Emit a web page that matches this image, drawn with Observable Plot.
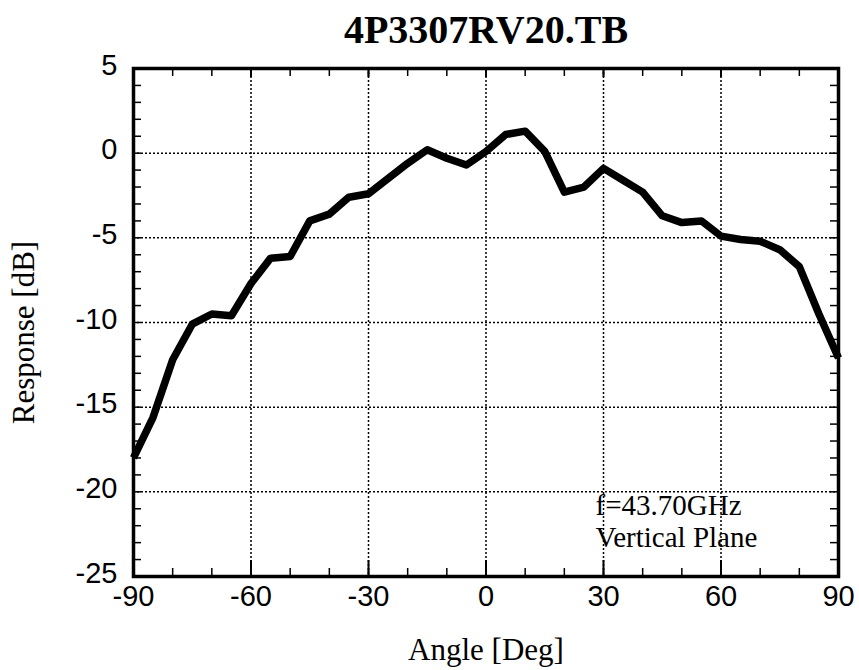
<!DOCTYPE html>
<html>
<head>
<meta charset="utf-8">
<script src="https://cdn.jsdelivr.net/npm/d3@7"></script>
<script src="https://cdn.jsdelivr.net/npm/@observablehq/plot@0.6"></script>
<style>
  html, body { margin: 0; padding: 0; background: #fff; }
  #chart svg { display: block; }
</style>
</head>
<body>
<div id="chart"></div>
<script>
// ---- Data ----
const chartTitle = "4P3307RV20.TB";
const xLabel = "Angle [Deg]";
const yLabel = "Response [dB]";
const annotationLines = ["f=43.70GHz", "Vertical Plane"];

const angles = [-90, -85, -80, -75, -70, -65, -60, -55, -50, -45, -40, -35, -30, -25, -20, -15, -10, -5,
                0, 5, 10, 15, 20, 25, 30, 35, 40, 45, 50, 55, 60, 65, 70, 75, 80, 85, 90];
const response = [-18.0, -15.6, -12.2, -10.1, -9.5, -9.6, -7.7, -6.2, -6.1, -4.0, -3.6, -2.6, -2.4, -1.5, -0.6, 0.2, -0.3, -0.7,
                  0.1, 1.1, 1.3, 0.1, -2.3, -2.0, -0.9, -1.6, -2.3, -3.7, -4.1, -4.0, -4.9, -5.1, -5.2, -5.7, -6.7, -9.5, -12.1];

const xTicks = [-90, -60, -30, 0, 30, 60, 90];
const yTicks = [5, 0, -5, -10, -15, -20, -25];
const xGrid = [-60, -30, 0, 30, 60];
const yGrid = [0, -5, -10, -15, -20];
const xMinor = d3.range(-80, 90, 10);
const yMinor = d3.range(-24, 5, 1);

const data = angles.map((a, i) => ({angle: a, value: response[i]}));

// ---- Layout ----
const W = 859, H = 670;
const mT = 68, mL = 133, mR = 21, mB = 94;
const innerW = W - mL - mR, innerH = H - mT - mB;
const serif = "Liberation Serif, Times New Roman, serif";
const sans = "Liberation Sans, Arial, Helvetica, sans-serif";

const chart = Plot.plot({
  width: W,
  height: H,
  marginTop: mT,
  marginLeft: mL,
  marginRight: mR,
  marginBottom: mB,
  style: {background: "#fff", color: "#000"},
  x: {domain: [-90, 90]},
  y: {domain: [-25, 5]},
  marks: [
    // dotted grid
    Plot.ruleX(xGrid, {stroke: "#000", strokeWidth: 1.5, strokeDasharray: "2,2"}),
    Plot.ruleY(yGrid, {stroke: "#000", strokeWidth: 1.5, strokeDasharray: "2,2"}),
    // inner minor ticks (top & bottom)
    Plot.ruleX(xMinor, {stroke: "#000", strokeWidth: 1.5, insetBottom: innerH - 8}),
    Plot.ruleX(xMinor, {stroke: "#000", strokeWidth: 1.5, insetTop: innerH - 8}),
    Plot.ruleX(xGrid, {stroke: "#000", strokeWidth: 2, insetTop: innerH - 16}),
    Plot.ruleX(xGrid, {stroke: "#000", strokeWidth: 2, insetBottom: innerH - 9}),
    // inner minor ticks (left & right)
    Plot.ruleY(yMinor, {stroke: "#000", strokeWidth: 1.5, insetRight: innerW - 8}),
    Plot.ruleY(yMinor, {stroke: "#000", strokeWidth: 1.5, insetLeft: innerW - 8}),
    // frame
    Plot.frame({stroke: "#000", strokeWidth: 3.5}),
    // axes
    Plot.axisX({ticks: xTicks, tickSize: 0, tickPadding: 9, fontSize: 29, fontFamily: sans, label: null, tickFormat: d => String(d)}),
    Plot.axisY({ticks: yTicks, tickSize: 0, tickPadding: 16, fontSize: 29, fontFamily: sans, label: null, dy: -3, tickFormat: d => String(d)}),
    // data line
    Plot.line(data, {x: "angle", y: "value", stroke: "#000", strokeWidth: 7.5, strokeLinejoin: "round", strokeLinecap: "butt"}),
    // annotation
    Plot.text([annotationLines.join("\n")], {frameAnchor: "bottom-left", dx: 462, dy: -30, textAnchor: "start", lineAnchor: "bottom", lineHeight: 1.08, fontSize: 29, fontFamily: serif, fill: "#000"}),
    // title
    Plot.text([chartTitle], {frameAnchor: "top", dy: -26, lineAnchor: "bottom", fontSize: 40, fontWeight: "bold", fontFamily: serif, fill: "#000"}),
    // x label
    Plot.text([xLabel], {frameAnchor: "bottom", dy: 83, lineAnchor: "bottom", fontSize: 31, fontFamily: serif, fill: "#000"}),
    // y label
    Plot.text([yLabel], {frameAnchor: "left", dx: -122, dy: 10, rotate: -90, textAnchor: "middle", lineAnchor: "top", fontSize: 31, fontFamily: serif, fill: "#000"})
  ]
});

document.getElementById("chart").appendChild(chart);
</script>
</body>
</html>
